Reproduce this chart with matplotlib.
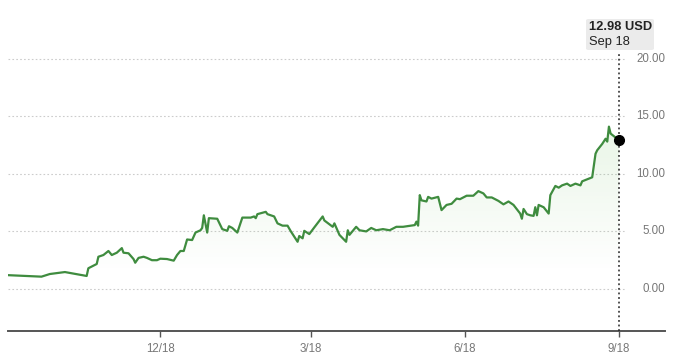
import numpy as np
import pandas as pd
import matplotlib
matplotlib.use("Agg")
import matplotlib.pyplot as plt
import matplotlib.dates as mdates
from matplotlib.patches import FancyBboxPatch, Polygon

plt.rcParams["font.family"] = ["Liberation Sans", "DejaVu Sans"]

# Price history: days after the start date, closing price in USD
START = pd.Timestamp("2017-09-18")
days = [
    0, 20, 25, 34, 37, 46, 47, 48, 53, 54, 57, 60, 62, 65, 68, 69, 72, 75,
    76, 78, 81, 83, 86, 89, 91, 95, 99, 101, 103, 105, 107, 110, 112, 115,
    116, 117, 119, 120, 125, 128, 131, 132, 134, 137, 140, 145, 147, 148,
    149, 154, 155, 159, 161, 164, 167, 169, 173, 174, 176, 177, 180, 183,
    188, 189, 194, 195, 198, 202, 203, 204, 208, 210, 214, 217, 220, 224,
    228, 232, 236, 243, 244, 245, 246, 247, 250, 251, 253, 257, 259, 262,
    265, 268, 270, 274, 278, 281, 284, 286, 289, 293, 296, 299, 302, 306,
    307, 308, 310, 312, 314, 315, 316, 317, 320, 323, 324, 327, 329, 331,
    334, 336, 339, 342, 343, 349, 350, 351, 352, 355, 357, 358, 359, 360,
    363, 365,
]
prices = [
    1.20, 1.07, 1.30, 1.47, 1.39, 1.15, 1.13, 1.80, 2.17, 2.80, 2.95, 3.30,
    2.95, 3.15, 3.55, 3.15, 3.10, 2.60, 2.28, 2.70, 2.80, 2.70, 2.50, 2.50,
    2.63, 2.60, 2.46, 2.95, 3.30, 3.30, 4.30, 4.25, 4.90, 5.10, 5.30, 6.40,
    4.90, 6.15, 6.10, 5.20, 5.05, 5.45, 5.30, 4.90, 6.20, 6.20, 6.30, 6.15,
    6.50, 6.70, 6.50, 6.30, 5.70, 5.50, 5.50, 5.00, 4.10, 4.60, 4.40, 5.05,
    4.77, 5.35, 6.30, 5.95, 5.40, 5.70, 4.70, 4.10, 5.10, 4.70, 5.40, 5.10,
    5.00, 5.30, 5.10, 5.20, 5.10, 5.40, 5.40, 5.55, 5.85, 5.50, 8.15, 7.70,
    7.60, 8.00, 7.85, 8.00, 6.85, 7.30, 7.40, 7.85, 7.80, 8.10, 8.10, 8.50,
    8.30, 7.95, 7.95, 7.65, 7.35, 7.60, 7.30, 6.55, 6.10, 6.95, 6.50, 6.40,
    6.35, 7.10, 6.40, 7.30, 7.10, 6.55, 8.15, 8.95, 8.80, 9.00, 9.15, 8.95,
    9.15, 9.00, 9.35, 9.70, 10.75, 11.75, 12.05, 12.60, 13.05, 12.80, 14.10,
    13.50, 13.15, 12.98,
]
y_ticks = [0, 5, 10, 15, 20]
x_ticks = ["2017-12-18", "2018-03-18", "2018-06-18", "2018-09-18"]
x_labels = ["12/18", "3/18", "6/18", "9/18"]
last_label = "12.98 USD"
last_date_label = "Sep 18"

LINE = "#3f8c3f"
GRID = "#cccccc"
TEXT = "#777777"

dates = START + pd.to_timedelta(days, unit="D")
xnum = mdates.date2num(dates.to_pydatetime())
last_x = xnum[-1]

fig = plt.figure(figsize=(6.8, 3.62), dpi=100)
ax = fig.add_axes([8 / 680, 31 / 362, 657 / 680, 331 / 362])
ax.set_xlim(xnum[0], last_x + 27.5)
ax.set_ylim(-3.65, 25.1)

# dotted horizontal grid, stopping short of the right-hand labels
for v in y_ticks:
    ax.plot([xnum[0], last_x + 4], [v, v], color=GRID, lw=0.8,
            ls=(0, (1.5, 2)), zorder=1)
    ax.text(1.0, v, f"{v:.2f}", transform=ax.get_yaxis_transform(),
            ha="right", va="center", fontsize=8.3, color=TEXT)

# soft green gradient under the line
grad = np.zeros((256, 1, 4))
grad[:, 0, 0:3] = matplotlib.colors.to_rgb("#6cbf5c")
grad[:, 0, 3] = np.linspace(0.15, 0.0, 256)
top = max(prices)
bottom = 1.5
im = ax.imshow(grad, extent=[xnum[0], last_x, bottom, top], aspect="auto",
               origin="upper", zorder=2)
poly = Polygon(np.column_stack([
    np.r_[xnum[0], xnum, last_x], np.r_[bottom, prices, bottom]]),
    closed=True, facecolor="none", edgecolor="none")
ax.add_patch(poly)
im.set_clip_path(poly)

ax.plot(xnum, prices, color=LINE, lw=1.6, zorder=3, solid_joinstyle="round")
ax.plot(last_x, prices[-1], "o", color="black", ms=7, zorder=5)
ax.axvline(last_x, ymin=0, ymax=(331 - 52) / 331, color="#222222", lw=1.1,
           ls=(0, (1.2, 1.8)), zorder=4)

for s in ["top", "left", "right"]:
    ax.spines[s].set_visible(False)
ax.spines["bottom"].set_color("#555555")
ax.spines["bottom"].set_linewidth(1.4)
ax.set_yticks([])
ax.set_xticks(mdates.date2num(pd.to_datetime(x_ticks).to_pydatetime()))
ax.set_xticklabels(x_labels)
ax.tick_params(axis="x", length=4, width=1, color="#555555",
               labelcolor=TEXT, labelsize=8.3, pad=5)

# tooltip box
fig.patches.append(FancyBboxPatch((586 / 680, 1 - 50 / 362), 68 / 680,
                                  31 / 362, boxstyle="round,pad=0,rounding_size=0.004",
                                  transform=fig.transFigure,
                                  facecolor="#ebebeb", edgecolor="none",
                                  zorder=0))
fig.text(589 / 680, 1 - 27 / 362, last_label, fontsize=9.3, color="#222222",
         va="center", ha="left", weight="semibold")
fig.text(589 / 680, 1 - 42 / 362, last_date_label, fontsize=9.3,
         color="#222222", va="center", ha="left")

fig.savefig("out.png", dpi=100)
